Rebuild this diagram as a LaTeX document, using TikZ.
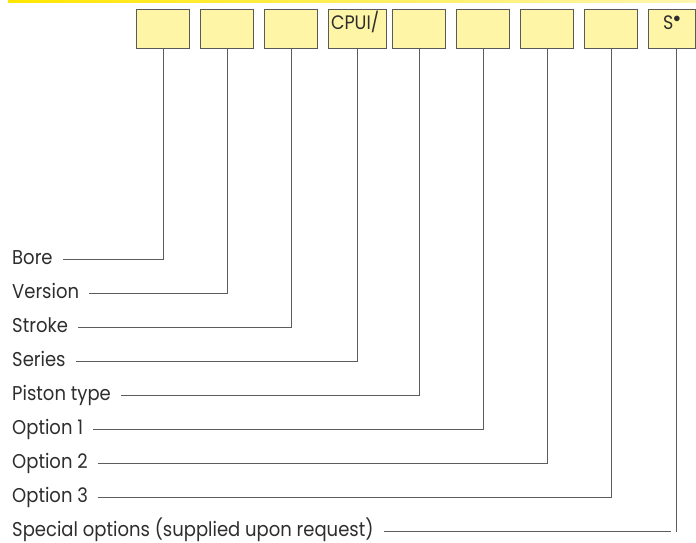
\documentclass[tikz,border=0pt]{standalone}
\usepackage{fontspec}
\setmainfont[FakeStretch=0.9]{Poppins}
\definecolor{boxyellow}{HTML}{FFF5A6}
\definecolor{barA}{HTML}{FFE600}
\definecolor{barB}{HTML}{FFF6B0}
\definecolor{linegray}{HTML}{5C5C5C}
\definecolor{txt}{HTML}{2E2E2E}
\begin{document}
\begin{tikzpicture}[x=1pt,y=-1pt,
  codebox/.style={draw=black!65, line width=1pt, fill=boxyellow, minimum width=53pt,
    minimum height=38.5pt, inner sep=0pt, anchor=north west, text=txt,
    font=\fontsize{19.5}{21}\selectfont, text height=13pt, text depth=12pt},
  lab/.style={anchor=west, inner sep=0pt, text height=14pt, text depth=4pt, text=txt,
    font=\fontsize{20}{22}\selectfont},
  leader/.style={draw=linegray, line width=0.9pt}]
\useasboundingbox (0,0) rectangle (696,543);
\shade[left color=barA, right color=barB] (8,0) rectangle (696,2.2);
% boxes
\node[codebox] (b1) at (136,9.5) {};
\node[codebox] (b2) at (200,9.5) {};
\node[codebox] (b3) at (264,9.5) {};
\node[codebox, text width=53pt, align=left, inner xsep=2.5pt] (b4) at (328,9.5) {CPUI/};
\node[codebox] (b5) at (392,9.5) {};
\node[codebox] (b6) at (456,9.5) {};
\node[codebox] (b7) at (520,9.5) {};
\node[codebox] (b8) at (584,9.5) {};
\node[codebox, minimum width=47pt] (b9) at (648,9.5) {S$^{\bullet}$};
% labels
\node[lab] (l1) at (12,259) {Bore};
\node[lab] (l2) at (12,293) {Version};
\node[lab] (l3) at (12,327) {Stroke};
\node[lab] (l4) at (12,361) {Series};
\node[lab] (l5) at (12,395) {Piston type};
\node[lab] (l6) at (12,429) {Option 1};
\node[lab] (l7) at (12,463) {Option 2};
\node[lab] (l8) at (12,497) {Option 3};
\node[lab] (l9) at (12,531) {Special options (supplied upon request)};
% leaders
\draw[leader] (b1.south) |- ([xshift=10pt]l1.east);
\draw[leader] (b2.south) |- ([xshift=10pt]l2.east);
\draw[leader] (b3.south) |- ([xshift=10pt]l3.east);
\draw[leader] (b4.south) |- ([xshift=10pt]l4.east);
\draw[leader] (b5.south) |- ([xshift=10pt]l5.east);
\draw[leader] (b6.south) |- ([xshift=10pt]l6.east);
\draw[leader] (b7.south) |- ([xshift=10pt]l7.east);
\draw[leader] (b8.south) |- ([xshift=10pt]l8.east);
\coordinate (e9) at (671,531);
\draw[leader] ([xshift=10pt]l9.east) -- (e9);
\draw[leader] ([xshift=4pt]b9.south) -- ([xshift=4pt,yshift=-1pt]b9.south |- e9);
\end{tikzpicture}
\end{document}
